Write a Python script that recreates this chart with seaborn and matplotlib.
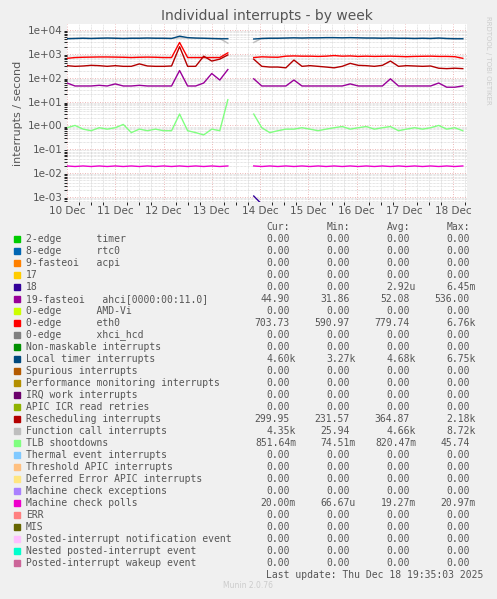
import numpy as np
import pandas as pd
import matplotlib
matplotlib.use("Agg")
import matplotlib.pyplot as plt
import seaborn as sns

# x positions: days since 10 Dec, 4h steps, gap on 13/14 Dec
times_a = np.arange(0, 3.5, 1 / 6)
times_b = np.arange(3.87, 8.31, 1 / 6)

local_timer_a = [4300, 4400, 4500, 4400, 4500, 4600, 4500, 4400, 4500, 4500, 4600, 4500, 4500, 4400, 5500, 4800, 4600, 4500, 4400, 4300, 4300]
local_timer_b = [4200, 4400, 4500, 4500, 4600, 4700, 4600, 4700, 4700, 4800, 4800, 4700, 4800, 4700, 4600, 4600, 4500, 4600, 4500, 4500, 4400, 4500, 4400, 4600, 4400, 4300, 4300]
func_call_a = [4500, 4500, 4600, 4500, 4600, 4600, 4600, 4500, 4600, 4600, 4600, 4600, 4500, 4500, 4700, 4600, 4500, 4500, 4400, 4400, 2800]
func_call_b = [3000, 4500, 4600, 4600, 4600, 4700, 4600, 4700, 4700, 4700, 4700, 4700, 4700, 4700, 4600, 4600, 4600, 4600, 4500, 4500, 4500, 4500, 4500, 4500, 4400, 4400, 4350]
eth0_a = [650, 700, 720, 730, 740, 740, 730, 720, 700, 720, 730, 720, 700, 700, 3000, 700, 700, 700, 700, 700, 1100]
eth0_b = [700, 750, 730, 720, 800, 820, 800, 800, 780, 800, 850, 800, 820, 780, 800, 780, 790, 800, 780, 760, 780, 790, 800, 780, 780, 760, 650]
resched_a = [320, 300, 310, 330, 320, 300, 320, 300, 300, 380, 310, 300, 300, 310, 2000, 300, 300, 800, 500, 600, 900]
resched_b = [600, 300, 280, 280, 260, 550, 300, 320, 300, 280, 260, 300, 400, 330, 320, 300, 330, 500, 300, 320, 310, 300, 310, 250, 240, 250, 240]
ahci_a = [60, 45, 45, 45, 48, 45, 55, 45, 45, 48, 45, 45, 45, 45, 200, 45, 45, 60, 150, 80, 220]
ahci_b = [90, 45, 45, 45, 45, 80, 45, 45, 45, 45, 45, 45, 55, 45, 45, 45, 45, 90, 45, 45, 45, 45, 45, 60, 40, 40, 45]
tlb_a = [0.8, 1.0, 0.7, 0.6, 0.8, 0.7, 0.8, 1.1, 0.5, 0.7, 0.6, 0.7, 0.6, 0.6, 3.0, 0.6, 0.5, 0.4, 0.7, 0.6, 12.0]
tlb_b = [3.0, 0.8, 0.5, 0.6, 0.7, 0.7, 0.8, 0.7, 0.6, 0.7, 0.8, 0.9, 0.7, 0.8, 0.9, 0.7, 0.8, 0.9, 0.6, 0.7, 0.8, 0.7, 0.8, 1.0, 0.7, 0.8, 0.6]
mcp_a = [0.020, 0.019, 0.020, 0.019, 0.020, 0.019, 0.020, 0.019, 0.020, 0.019, 0.020, 0.019, 0.020, 0.019, 0.020, 0.019, 0.020, 0.019, 0.020, 0.019, 0.020]
mcp_b = [0.020, 0.019, 0.020, 0.019, 0.020, 0.019, 0.020, 0.019, 0.020, 0.019, 0.020, 0.019, 0.020, 0.019, 0.020, 0.019, 0.020, 0.019, 0.020, 0.019, 0.020, 0.019, 0.020, 0.019, 0.020, 0.019, 0.020]
irq18_b = [0.0011, 0.0005]

day_labels = ["10 Dec", "11 Dec", "12 Dec", "13 Dec", "14 Dec", "15 Dec", "16 Dec", "17 Dec", "18 Dec"]

legend_names = [
    "2-edge      timer", "8-edge      rtc0", "9-fasteoi   acpi", "17", "18",
    "19-fasteoi   ahci[0000:00:11.0]", "0-edge      AMD-Vi", "0-edge      eth0",
    "0-edge      xhci_hcd", "Non-maskable interrupts", "Local timer interrupts",
    "Spurious interrupts", "Performance monitoring interrupts", "IRQ work interrupts",
    "APIC ICR read retries", "Rescheduling interrupts", "Function call interrupts",
    "TLB shootdowns", "Thermal event interrupts", "Threshold APIC interrupts",
    "Deferred Error APIC interrupts", "Machine check exceptions", "Machine check polls",
    "ERR", "MIS", "Posted-interrupt notification event", "Nested posted-interrupt event",
    "Posted-interrupt wakeup event",
]
legend_colors = [
    "#00cc00", "#0066b3", "#ff8000", "#ffcc00", "#330099", "#990099", "#ccff00", "#ff0000",
    "#808080", "#008f00", "#00487d", "#b35a00", "#b38f00", "#6b006b", "#8fb300", "#b30000",
    "#bebebe", "#80ff80", "#80c9ff", "#ffc080", "#ffe680", "#aa80ff", "#ee00cc", "#ff8080",
    "#666600", "#ffbfff", "#00ffcc", "#cc6699",
]
z = "0.00"
cur = [z, z, z, z, z, "44.90", z, "703.73", z, z, "4.60k", z, z, z, z, "299.95", "4.35k", "851.64m", z, z, z, z, "20.00m", z, z, z, z, z]
mins = [z, z, z, z, z, "31.86", z, "590.97", z, z, "3.27k", z, z, z, z, "231.57", "25.94", "74.51m", z, z, z, z, "66.67u", z, z, z, z, z]
avgs = [z, z, z, z, "2.92u", "52.08", z, "779.74", z, z, "4.68k", z, z, z, z, "364.87", "4.66k", "820.47m", z, z, z, z, "19.27m", z, z, z, z, z]
maxs = [z, z, z, z, "6.45m", "536.00", z, "6.76k", z, z, "6.75k", z, z, z, z, "2.18k", "8.72k", "45.74", z, z, z, z, "20.97m", z, z, z, z, z]


def draw(ax, a, b, color):
    for t, v in ((times_a, a), (times_b, b)):
        if len(v) == 0:
            continue
        df = pd.DataFrame({"t": t[:len(v)], "v": v})
        sns.lineplot(data=df, x="t", y="v", ax=ax, color=color, lw=1.0,
                     sort=False, estimator=None)


W, H = 497, 599
fig = plt.figure(figsize=(W / 100, H / 100), dpi=100, facecolor="#f0f0f0")
ax = fig.add_axes([67 / W, 1 - 202 / H, 400 / W, 178 / H])
ax.set_facecolor("white")

draw(ax, func_call_a, func_call_b, "#bebebe")
draw(ax, local_timer_a, local_timer_b, "#00487d")
draw(ax, eth0_a, eth0_b, "#ff0000")
draw(ax, resched_a, resched_b, "#b30000")
draw(ax, ahci_a, ahci_b, "#990099")
draw(ax, tlb_a, tlb_b, "#80ff80")
draw(ax, mcp_a, mcp_b, "#ee00cc")
draw(ax, [], irq18_b, "#330099")

ax.set_yscale("log")
top = 10 ** (4 + 6 / 23.86)
bot = 10 ** (-3 - 5 / 23.86)
ax.set_ylim(bot, top)
ax.set_xlim(0, 400 / 48.25)
ax.set_xticks(range(len(day_labels)))
ax.set_xticklabels(day_labels)
ax.set_yticks([10.0 ** k for k in range(-3, 5)])
ax.set_yticklabels(["1e-03", "1e-02", "1e-01", "1e+00", "1e+01", "1e+02", "1e+03", "1e+04"])
ax.yaxis.set_minor_locator(matplotlib.ticker.LogLocator(subs=np.arange(2, 10), numticks=20))
ax.yaxis.set_minor_formatter(matplotlib.ticker.NullFormatter())
ax.xaxis.set_minor_locator(matplotlib.ticker.MultipleLocator(0.25))
ax.grid(True, which="minor", color="#cccccc", ls=(0, (1, 1)), lw=0.5)
ax.grid(True, which="major", color="#e8a0a0", ls=(0, (1, 2)), lw=0.6)
ax.set_axisbelow(True)
for s in ax.spines.values():
    s.set_visible(False)
ax.tick_params(labelsize=7.5, colors="#555555", length=0, pad=3)
ax.set_xlabel("")
ax.set_ylabel("interrupts / second", fontsize=8, color="#555555")
ax.set_title("Individual interrupts - by week", fontsize=10, color="#555555", pad=3)

fig.text(488 / W, 1 - 60 / H, "RRDTOOL / TOBI OETIKER", rotation=270, fontsize=5,
         color="#cccccc", ha="center", va="center")

mono = dict(family="DejaVu Sans Mono", fontsize=7, color="#555555", va="center")
cols = [296, 356, 416, 476]
for x, h in zip(cols, ["Cur:", "Min:", "Avg:", "Max:"]):
    fig.text((x - 6) / W, 1 - 227 / H, h, ha="right", **mono)
for i, name in enumerate(legend_names):
    y = 1 - (239 + i * 12) / H
    fig.patches.append(plt.Rectangle((14 / W, y - 3 / H), 6 / W, 6 / H, transform=fig.transFigure,
                                     color=legend_colors[i]))
    fig.text(26 / W, y, name, ha="left", **mono)
    for x, vals in zip(cols, [cur, mins, avgs, maxs]):
        s = vals[i]
        off = 0 if s[-1].isalpha() else 6
        fig.text((x - off) / W, y, s, ha="right", **mono)
fig.text(483 / W, 1 - 575 / H, "Last update: Thu Dec 18 19:35:03 2025", ha="right", **mono)
fig.text(248 / W, 1 - 588 / H, "Munin 2.0.76", ha="center", fontsize=5.5, color="#cccccc")

fig.savefig("out.png", dpi=100, facecolor=fig.get_facecolor())
